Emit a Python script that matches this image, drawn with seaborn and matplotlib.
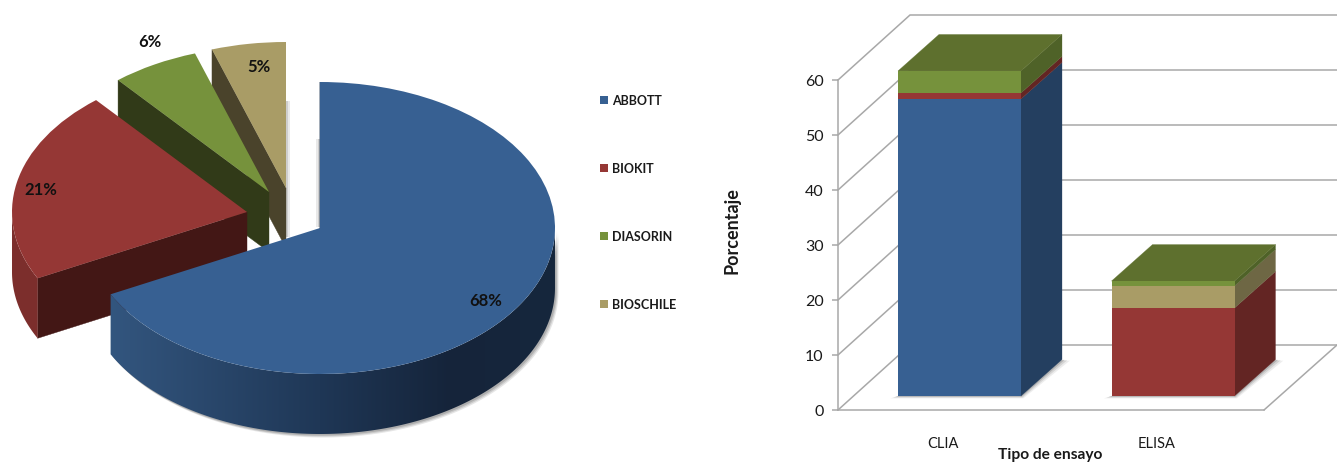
import numpy as np
import matplotlib
matplotlib.use("Agg")
import matplotlib.pyplot as plt
from matplotlib.colors import LinearSegmentedColormap
from matplotlib.patches import Polygon
import seaborn as sns

# ---------- data ----------
brands = ["ABBOTT", "BIOKIT", "DIASORIN", "BIOSCHILE"]
brand_share = [67.5, 21.4, 6.0, 5.1]

assay_types = ["CLIA", "ELISA"]
abbott = [54.0, 0.0]
biokit = [1.1, 16.0]
bioschile = [0.0, 4.0]
diasorin = [4.0, 0.9]

# ---------- style ----------
W, H = 1337, 464
sns.set_theme(style="white")
plt.rcParams["font.family"] = ["Lato", "DejaVu Sans"]
INK = "#1a1a1a"
GRID = "#a8a8a8"
top_col = {"ABBOTT": "#376092", "BIOKIT": "#953735", "DIASORIN": "#76923C", "BIOSCHILE": "#A99C66"}
cut_col = {"ABBOTT": "#1F3856", "BIOKIT": "#431715", "DIASORIN": "#313A18", "BIOSCHILE": "#4A432B"}
bar_side = {"ABBOTT": "#243F60", "BIOKIT": "#632523", "DIASORIN": "#4F6228", "BIOSCHILE": "#6E6744"}
bar_lid = "#5E702E"

fig = plt.figure(figsize=(W / 100, H / 100), dpi=100)
fig.patch.set_facecolor("white")


def box(x0, y0, x1, y1):
    return fig.add_axes([x0 / W, 1 - y1 / H, (x1 - x0) / W, (y1 - y0) / H])


# ---------- pie ----------
RX, RY, CX, CY, DEPTH = 235.0, 146.0, 320.0, 229.0, 60.0
ax = box(0, 0, 590, 464)
wedges, _ = ax.pie(brand_share, startangle=90, counterclock=False,
                   colors=[top_col[b] for b in brands], wedgeprops=dict(linewidth=0))
xlim = (-CX / RX, (590 - CX) / RX)
ylim = (-(H - CY) / RY, CY / RY)

slice_offset_px = {"ABBOTT": (0, 0), "BIOKIT": (-73, 16), "DIASORIN": (-51, 36), "BIOSCHILE": (-34, 40)}
paint_order = ["BIOSCHILE", "DIASORIN", "BIOKIT", "ABBOTT"]
abbott_ramp = LinearSegmentedColormap.from_list(
    "a", [(0, "#35587F"), (0.05, "#33567F"), (0.5, "#1F3756"), (0.78, "#15243A"), (1, "#16273D")])
biokit_ramp = LinearSegmentedColormap.from_list("b", ["#7C2E2C", "#7F2F2D"])
ramps = {"ABBOTT": abbott_ramp, "BIOKIT": biokit_ramp}
d = DEPTH / RY


def px_x(p):
    return (p - CX) / RX


def px_y(p):
    return (CY - p) / RY


for order, name in enumerate(paint_order):
    w = wedges[brands.index(name)]
    ox, oy = slice_offset_px[name]
    cx, cy = ox / RX, oy / RY
    w.set_center((cx, cy))
    z = 2 + order * 3
    w.set_zorder(z + 2)
    # flat cut face
    t = np.radians(w.theta2)
    px, py = cx + np.cos(t), cy + np.sin(t)
    ax.add_patch(Polygon([(cx, cy), (px, py), (px, py - d), (cx, cy - d)],
                         facecolor=cut_col[name], edgecolor=cut_col[name], lw=0.3, zorder=z))
    # curved outer face with a left-to-right shade
    if name in ramps:
        ang = np.linspace(w.theta1, w.theta2, 400)
        ang = ang[np.sin(np.radians(ang)) < 0.01]
        r = np.radians(ang)
        xs, ys = cx + np.cos(r), cy + np.sin(r)
        outline = np.r_[np.c_[xs, ys], np.c_[xs, ys - d][::-1]]
        if name == "ABBOTT":
            for k, a in zip((3.5, 2.5, 1.5), (0.18, 0.25, 0.35)):
                ax.fill(outline[:, 0] + k / RX, outline[:, 1] - k / RY, color="#777777",
                        alpha=a, lw=0, zorder=0.5)
        shade = Polygon(outline, transform=ax.transData, facecolor="none", lw=0)
        ax.add_patch(shade)
        grad = np.linspace(0, 1, 256).reshape(1, -1)
        im = ax.imshow(grad, cmap=ramps[name], vmin=0, vmax=1, aspect="auto", interpolation="bilinear",
                       extent=(cx - 1, cx + 1, cy - 1 - d, cy + 1), zorder=z + 1)
        im.set_clip_path(shade)

# faint glow beside the two vertical cut edges
for (x0, x1, y0, y1) in [(286, 290, 102, 238), (316, 320, 140, 228)]:
    for k, a in zip((1.0, 0.5), (0.18, 0.28)):
        if x0 == 286:
            span = [px_x(x0), px_x(x0 + (x1 - x0) * k)]
        else:
            span = [px_x(x1 - (x1 - x0) * k), px_x(x1)]
        ax.fill_between(span, px_y(y1), px_y(y0), color="#8a8a8a", alpha=a, lw=0, zorder=1)

label_px = {"ABBOTT": (486, 301), "BIOKIT": (41, 190), "DIASORIN": (150, 42), "BIOSCHILE": (259, 67)}
for name, share in zip(brands, brand_share):
    lx, ly = label_px[name]
    ax.text(px_x(lx), px_y(ly), f"{share:.0f}%", ha="center", va="center",
            fontsize=12, color="#111111", fontweight="bold", zorder=40)

ax.set_aspect("auto")
ax.set_xlim(*xlim)
ax.set_ylim(*ylim)
ax.axis("off")

leg = ax.legend(wedges, brands, loc="upper left", bbox_to_anchor=(600 / 590, 1 - 95 / 464),
                frameon=False, fontsize=9, labelspacing=4.48, handlelength=0.62,
                handleheight=0.62, handletextpad=0.32, borderpad=0, borderaxespad=0)
for txt in leg.get_texts():
    txt.set_fontweight("bold")
    txt.set_color(INK)

# ---------- stacked oblique bars ----------
PX_X, PX_Y = 213.5, 5.5      # pixels per category / per percent
X0, Y0 = 959.5, 411.0
L, T, R = 838, 16, 1337
ax2 = box(L, T, R, Y0)
series = [("ABBOTT", abbott), ("BIOKIT", biokit), ("BIOSCHILE", bioschile), ("DIASORIN", diasorin)]
bar_w = 123 / PX_X
lift = 14 / PX_Y
bdx, bdy = 41 / PX_X, 36.5 / PX_Y
wdx, wdy = 72 / PX_X, 65 / PX_Y
cums = np.cumsum([s[1] for s in series], axis=0)

for i in range(len(series) - 1, -1, -1):
    sns.barplot(x=assay_types, y=cums[i], color=top_col[series[i][0]], saturation=1, width=bar_w,
                bottom=lift, ax=ax2, zorder=10 + (len(series) - i), linewidth=0, legend=False)

for j in range(len(assay_types)):
    xl, xr = j - bar_w / 2, j + bar_w / 2
    # floor shadow
    for k, a in zip((3, 2, 1), (0.10, 0.16, 0.26)):
        sx, sy = k * 2.6 / PX_X, k * 0.8 / PX_Y
        ax2.add_patch(Polygon([(xl - sx, lift - sy), (xr + sx * 0.3, lift - sy),
                               (xr + bdx + sx, lift + bdy - sy * 0.5), (xr, lift + bdy)],
                              facecolor="#555555", alpha=a, lw=0, zorder=3))
    prev = 0.0
    for i, (name, _) in enumerate(series):
        cur = cums[i][j]
        if cur > prev:
            ax2.add_patch(Polygon([(xr, prev + lift), (xr + bdx, prev + lift + bdy),
                                   (xr + bdx, cur + lift + bdy), (xr, cur + lift)],
                                  facecolor=bar_side[name], edgecolor=bar_side[name], lw=0.2, zorder=8))
        prev = cur
    ax2.add_patch(Polygon([(xl, prev + lift), (xr, prev + lift),
                           (xr + bdx, prev + lift + bdy), (xl + bdx, prev + lift + bdy)],
                          facecolor=bar_lid, edgecolor=bar_lid, lw=0.2, zorder=8))

xa = (L - X0) / PX_X
xb = (R - X0) / PX_X
xf = (1264 - X0) / PX_X
ax2.set_xlim(xa, xb)
ax2.set_ylim(0, (Y0 - T) / PX_Y)
yticks = np.arange(0, 61, 10)
ax2.set_yticks(yticks)
ax2.set_yticklabels([str(v) for v in yticks])
for t in yticks:
    ax2.plot([xa, xa + wdx, xb], [t, t + wdy, t + wdy], color=GRID, lw=1.1, zorder=1, clip_on=False,
             solid_joinstyle="miter")
ax2.plot([xf, xb], [0, wdy], color=GRID, lw=1.1, zorder=1, clip_on=False)

for s in ("top", "right"):
    ax2.spines[s].set_visible(False)
ax2.spines["left"].set_bounds(0, 60)
ax2.spines["bottom"].set_bounds(xa, xf)
for s in ("left", "bottom"):
    ax2.spines[s].set_color(GRID)
    ax2.spines[s].set_linewidth(1.1)
ax2.patch.set_alpha(0)
ax2.tick_params(axis="y", length=4.3, width=1.1, color=GRID, pad=6, labelsize=11.5, labelcolor=INK, left=True)
ax2.set_xticks([(943 - X0) / PX_X, (1157 - X0) / PX_X])
ax2.set_xticklabels(assay_types)
ax2.tick_params(axis="x", length=0, pad=19, labelsize=10.5, labelcolor=INK, bottom=False)
ax2.set_xlabel("Tipo de ensayo", fontsize=11.2, fontweight="bold", color=INK, va="center")
ax2.xaxis.set_label_coords((1050 - L) / (R - L), -(455 - Y0) / (Y0 - T))
ax2.set_ylabel("Porcentaje", fontsize=13, fontweight="bold", color=INK, va="center")
ax2.yaxis.set_label_coords((732 - L) / (R - L), (Y0 - 231) / (Y0 - T))

fig.savefig("out.png", dpi=100, facecolor="white")
